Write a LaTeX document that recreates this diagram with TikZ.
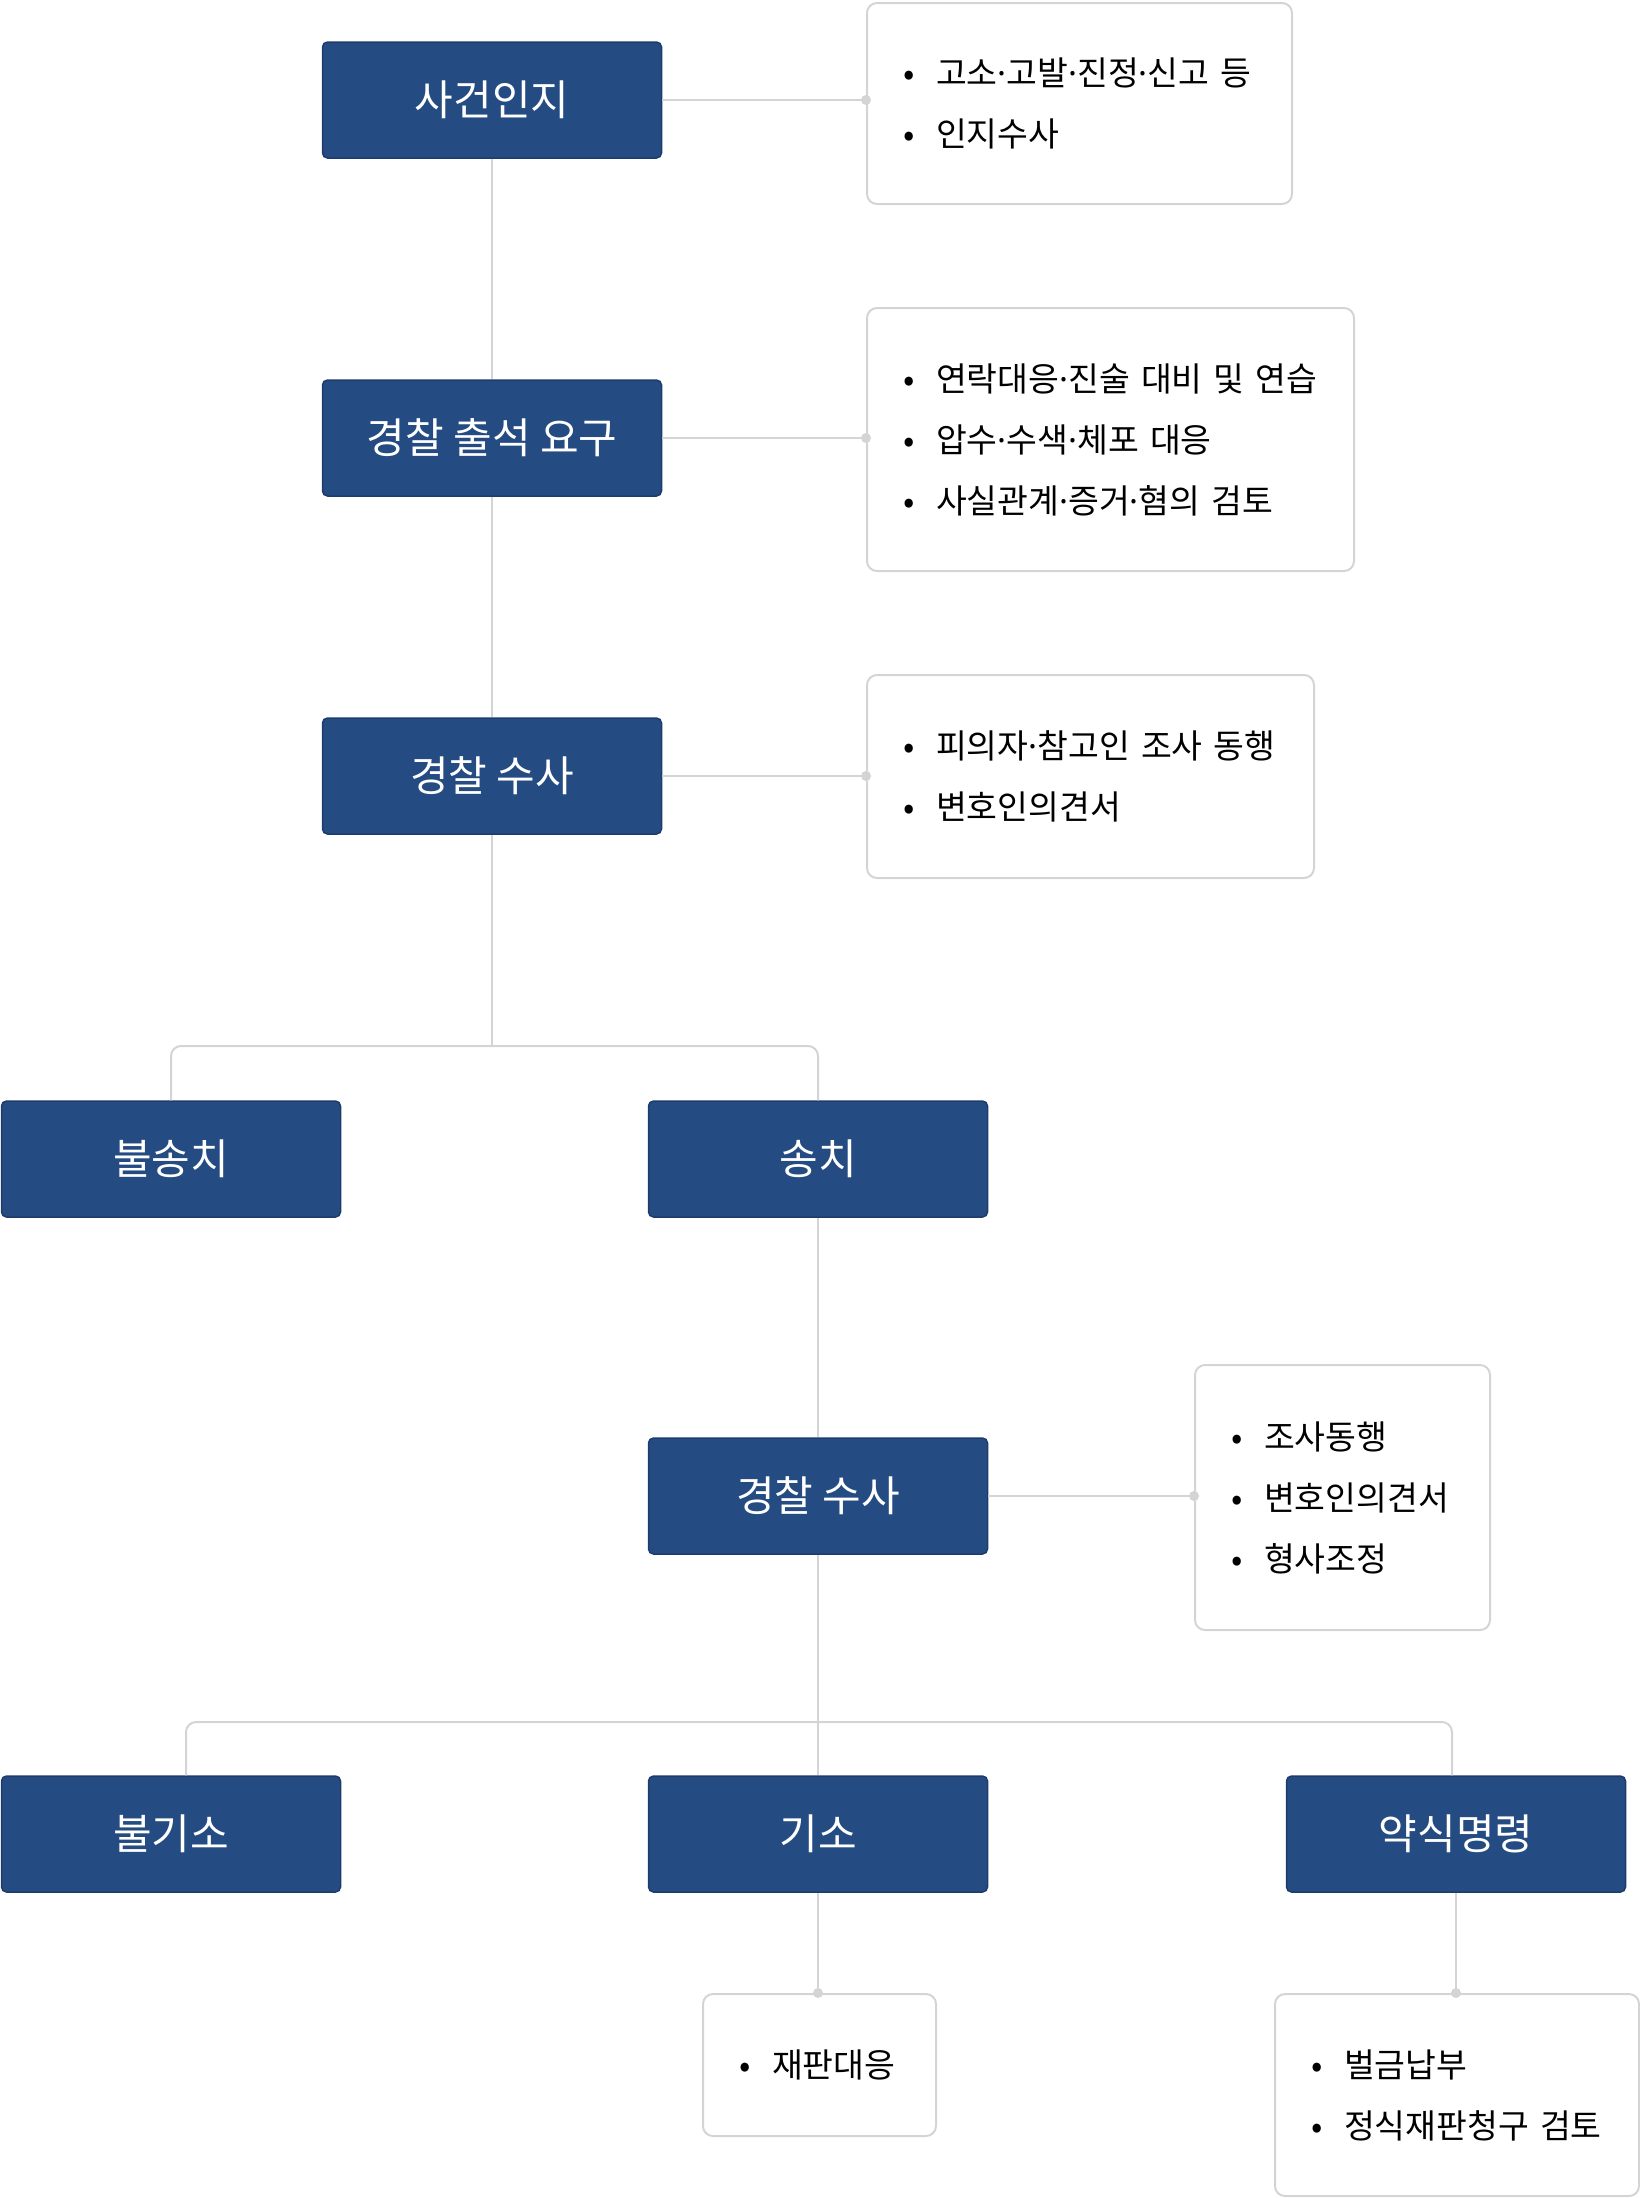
\documentclass[tikz,border=0pt]{standalone}
\usepackage{fontspec}
\setmainfont{Noto Sans CJK KR}
\newfontfamily\latinfont{Noto Sans}
\definecolor{navy}{HTML}{244B82}
\definecolor{navyedge}{HTML}{1D3C6C}
\definecolor{linegray}{HTML}{D4D4D4}
\newcommand\infobullet{\makebox[33pt][l]{•}}
\newcommand\mdot{{\latinfont ·}}

\begin{document}
\begin{tikzpicture}[x=1pt,y=-1pt,
    stage/.style={fill=navy,draw=navyedge,line width=1.5pt,rounded corners=5pt,
        minimum width=339pt,minimum height=116pt,text=white,font=\fontsize{42}{50}\selectfont},
    infobox/.style={draw=linegray,line width=2pt,rounded corners=10pt,anchor=north west,
        align=left,inner xsep=36pt,font=\fontsize{33.5}{61}\selectfont},
    link/.style={linegray,line width=2pt}]
    \useasboundingbox (0,0) rectangle (1640,2198);

    \node[stage] (sagun) at (492,100) {사건인지};
    \node[stage] (chulseok) at (492,438) {경찰 출석 요구};
    \node[stage] (susa1) at (492,776) {경찰 수사};
    \node[stage] (bulsongchi) at (171,1159) {불송치};
    \node[stage] (songchi) at (818,1159) {송치};
    \node[stage] (susa2) at (818,1496) {경찰 수사};
    \node[stage] (bulgiso) at (171,1834) {불기소};
    \node[stage] (giso) at (818,1834) {기소};
    \node[stage] (yaksik) at (1456,1834) {약식명령};

    \node[infobox,text width=353pt,minimum height=201pt] (info1) at (866,2)
        {\infobullet 고소\mdot 고발\mdot 진정\mdot 신고 등\\ \infobullet 인지수사};
    \node[infobox,text width=415pt,minimum height=263pt] (info2) at (866,307)
        {\infobullet 연락대응\mdot 진술 대비 및 연습\\ \infobullet 압수\mdot 수색\mdot 체포 대응\\ \infobullet 사실관계\mdot 증거\mdot 혐의 검토};
    \node[infobox,text width=375pt,minimum height=203pt] (info3) at (866,674)
        {\infobullet 피의자\mdot 참고인 조사 동행\\ \infobullet 변호인의견서};
    \node[infobox,text width=223pt,minimum height=265pt] (info4) at (1194,1364)
        {\infobullet 조사동행\\ \infobullet 변호인의견서\\ \infobullet 형사조정};
    \node[infobox,text width=161pt,minimum height=142pt] (info5) at (702,1993)
        {\infobullet 재판대응};
    \node[infobox,text width=292pt,minimum height=202pt] (info6) at (1274,1993)
        {\infobullet 벌금납부\\ \infobullet 정식재판청구 검토};

    \coordinate (split1) at (492,1046);
    \coordinate (split2) at (818,1722);

    \draw[link] (sagun.south) -- (chulseok.north);
    \draw[link] (chulseok.south) -- (susa1.north);
    \draw[link] (susa1.south) -- (split1);
    \draw[link,rounded corners=10pt] (bulsongchi.north) |- (split1) -| (songchi.north);
    \draw[link] (songchi.south) -- (susa2.north);
    \draw[link] (susa2.south) -- (giso.north);
    \draw[link,rounded corners=10pt] ([xshift=15pt]bulgiso.north) |- (split2) -| ([xshift=-4pt]yaksik.north);

    \draw[link] (sagun.east) -- (sagun.east -| info1.west);
    \fill[linegray] (sagun.east -| info1.west) circle (5pt);
    \draw[link] (chulseok.east) -- (chulseok.east -| info2.west);
    \fill[linegray] (chulseok.east -| info2.west) circle (5pt);
    \draw[link] (susa1.east) -- (susa1.east -| info3.west);
    \fill[linegray] (susa1.east -| info3.west) circle (5pt);
    \draw[link] (susa2.east) -- (susa2.east -| info4.west);
    \fill[linegray] (susa2.east -| info4.west) circle (5pt);
    \draw[link] (giso.south) -- (giso.south |- info5.north);
    \fill[linegray] (giso.south |- info5.north) circle (5pt);
    \draw[link] (yaksik.south) -- (yaksik.south |- info6.north);
    \fill[linegray] (yaksik.south |- info6.north) circle (5pt);
\end{tikzpicture}
\end{document}
